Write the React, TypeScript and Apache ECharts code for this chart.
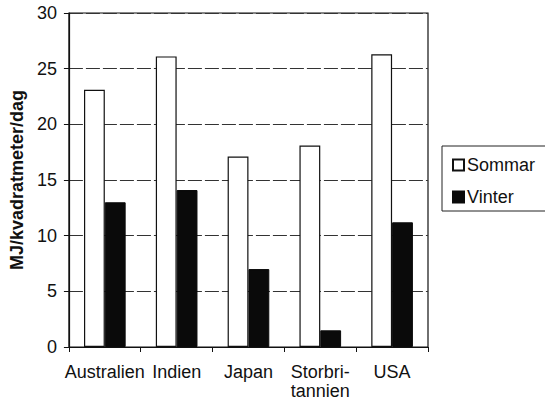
import React, { useEffect, useRef } from "react";
import * as echarts from "echarts";

const categories = ["Australien", "Indien", "Japan", "Storbri-\ntannien", "USA"];
const sommar = [23.1, 26.1, 17.1, 18.1, 26.3];
const vinter = [13.0, 14.1, 7.0, 1.5, 11.2];
const yTicks = { min: 0, max: 30, interval: 5 };

export default function App() {
  const ref = useRef<HTMLDivElement>(null);

  useEffect(() => {
    if (!ref.current) return;
    const chart = echarts.init(ref.current, null, { renderer: "svg" });
    const font = "Liberation Sans, Arial, sans-serif";
    chart.setOption({
      animation: false,
      backgroundColor: "#ffffff",
      textStyle: { fontFamily: font, color: "#111" },
      grid: {
        left: 68,
        right: 117,
        top: 13,
        bottom: 56,
        show: true,
        borderColor: "#111",
        borderWidth: 1.2,
      },
      legend: {
        orient: "vertical",
        left: 442,
        top: 146,
        itemWidth: 11,
        itemHeight: 11,
        itemGap: 14,
        padding: [10, 12, 5, 10],
        borderColor: "#222",
        borderWidth: 1,
        icon: "rect",
        textStyle: { fontFamily: font, fontSize: 18, color: "#111", padding: [0, 0, 0, -2] },
        data: ["Sommar", "Vinter"],
      },
      xAxis: {
        type: "category",
        data: categories,
        axisLine: { lineStyle: { color: "#111", width: 1.2 } },
        axisTick: { show: true, length: 5, lineStyle: { color: "#111" } },
        axisLabel: {
          fontFamily: font,
          fontSize: 18,
          color: "#111",
          margin: 15,
          lineHeight: 19,
          interval: 0,
        },
      },
      yAxis: {
        type: "value",
        min: yTicks.min,
        max: yTicks.max,
        interval: yTicks.interval,
        name: "MJ/kvadratmeter/dag",
        nameLocation: "middle",
        nameGap: 42,
        nameRotate: 90,
        nameTextStyle: { fontFamily: font, fontSize: 18, fontWeight: "bold", color: "#111" },
        axisLine: { show: true, lineStyle: { color: "#111", width: 1.2 } },
        axisTick: { show: true, length: 5, lineStyle: { color: "#111" } },
        axisLabel: { fontFamily: font, fontSize: 18, color: "#111", margin: 12 },
        splitLine: {
          show: true,
          lineStyle: { color: "#333", width: 1, type: [14, 3] },
        },
      },
      series: [
        {
          name: "Sommar",
          type: "bar",
          data: sommar,
          barGap: "0%",
          barCategoryGap: "42%",
          itemStyle: { color: "#ffffff", borderColor: "#111", borderWidth: 1.2 },
        },
        {
          name: "Vinter",
          type: "bar",
          data: vinter,
          barGap: "0%",
          barCategoryGap: "42%",
          itemStyle: { color: "#0a0a0a", borderColor: "#0a0a0a", borderWidth: 1 },
        },
      ],
    });
    return () => chart.dispose();
  }, []);

  return <div ref={ref} style={{ width: 545, height: 403, position: "absolute", left: 0, top: 0 }} />;
}
